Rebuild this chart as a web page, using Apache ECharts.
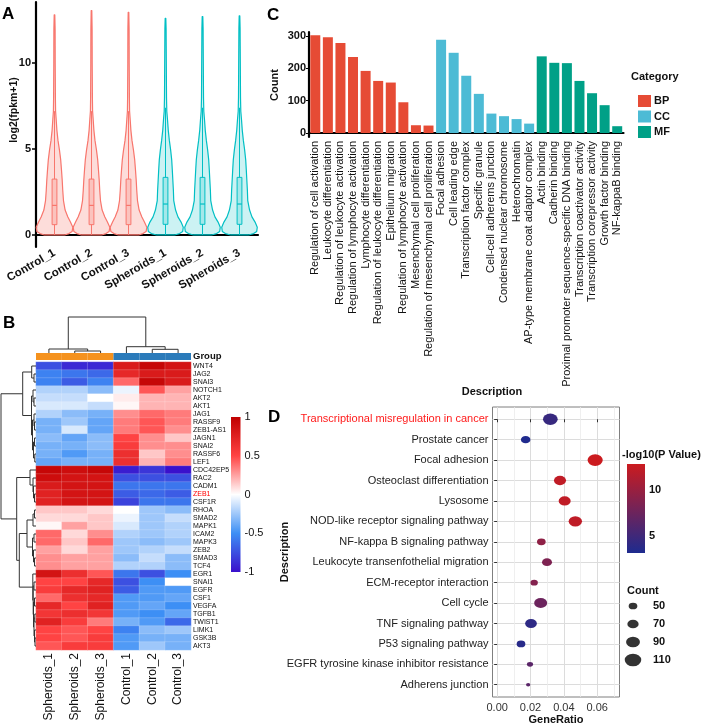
<!DOCTYPE html>
<html><head><meta charset="utf-8">
<script src="https://cdn.jsdelivr.net/npm/echarts@6/dist/echarts.min.js"></script>
<style>html,body{margin:0;padding:0;background:#fff}#c{width:706px;height:726px}</style>
</head><body><div id="c"></div>
<script>
// ================= Panel A : violin =================
const samplesA = ['Control_1','Control_2','Control_3','Spheroids_1','Spheroids_2','Spheroids_3'];
const groupA = ['Control','Control','Control','Spheroids','Spheroids','Spheroids'];
const violinLevels = [0, 0.08, 0.2, 0.45, 0.75, 1.05, 1.45, 2.0, 2.6, 3.2, 3.8, 4.35, 4.95, 5.5, 6.1, 6.7, 7.2, 8, 9, 10, 11, 12];
const densityControl = [0.55, 0.79, 0.96, 1.0, 0.87, 0.73, 0.58, 0.49, 0.45, 0.42, 0.38, 0.34, 0.27, 0.19, 0.13, 0.093, 0.06, 0.049, 0.044, 0.038, 0.036, 0.033];
const densitySpheroids = [0.49, 0.77, 0.94, 0.97, 0.85, 0.68, 0.55, 0.45, 0.43, 0.40, 0.37, 0.34, 0.28, 0.21, 0.15, 0.11, 0.071, 0.055, 0.049, 0.044, 0.038, 0.033];
const violinMax = [12.8, 13.05, 12.95, 12.6, 12.7, 12.75];
const boxQ1 = [0.6, 0.6, 0.6, 0.62, 0.62, 0.62];
const boxMedian = [1.72, 1.72, 1.72, 1.8, 1.8, 1.8];
const boxQ3 = [3.25, 3.25, 3.25, 3.35, 3.35, 3.35];
const whiskerHigh = [7.2, 7.2, 7.2, 7.4, 7.4, 7.4];
const yTicksA = [0, 5, 10];

// ================= Panel C : GO bars =================
const goTerms = ['Regulation of cell activation','Leukocyte differentiation','Regulation of leukocyte activation','Regulation of lymphocyte activation','Lymphocyte differentiation','Regulation of leukocyte differentiation','Epithelium migration','Regulation of lymphocyte activation','Mesenchymal cell proliferation','Regulation of mesenchymal cell proliferation','Focal adhesion','Cell leading edge','Transcription factor complex','Specific granule','Cell-cell adherems junction','Condensed nuclear chromosome','Heterochromatin','AP-type membrane coat adaptor complex','Actin binding','Cadherin binding','Proximal promoter sequence-specific DNA binding','Transcription coactivator activity','Transcription corepressor activity','Growth factor binding','NF-kappaB binding'];
const goCategory = ['BP','BP','BP','BP','BP','BP','BP','BP','BP','BP','CC','CC','CC','CC','CC','CC','CC','CC','MF','MF','MF','MF','MF','MF','MF'];
const goCounts = [302, 296, 278, 235, 192, 161, 156, 95, 24, 23, 288, 248, 177, 121, 60, 52, 43, 29, 237, 217, 216, 161, 123, 86, 21];
const goCategories = ['BP','CC','MF'];
const yTicksC = [0, 100, 200, 300];

// ================= Panel B : heatmap =================
const heatSamples = ['Spheroids_1','Spheroids_2','Spheroids_3','Control_1','Control_2','Control_3'];
const heatGroups = ['Spheroids','Spheroids','Spheroids','Control','Control','Control'];
const genes = ['WNT4','JAG2','SNAI3','NOTCH1','AKT2','AKT1','JAG1','RASSF9','ZEB1-AS1','JAGN1','SNAI2','RASSF6','LEF1','CDC42EP5','RAC2','CADM1','ZEB1','CSF1R','RHOA','SMAD2','MAPK1','ICAM2','MAPK3','ZEB2','SMAD3','TCF4','EGR1','SNAI1','EGFR','CSF1','VEGFA','TGFB1','TWIST1','LIMK1','GSK3B','AKT3'];
const highlightGenes = ['ZEB1'];
const zSpheroids1 = [-0.75,-0.55,-0.55,-0.2,-0.15,-0.1,-0.2,-0.35,-0.35,-0.3,-0.35,-0.35,-0.4, 0.95,0.9,0.8,0.75,0.75, 0.15,0.1,0.02,0.4,0.4,0.25,0.3,0.3, 0.85,0.5,0.55,0.4,0.7,0.6,0.75,0.5,0.5,0.45];
const zSpheroids2 = [-0.9,-0.6,-0.7,-0.2,-0.15,-0.1,-0.3,-0.25,-0.1,-0.4,-0.35,-0.45,-0.35, 0.9,0.85,0.85,0.85,0.85, 0.15,0.1,0.25,0.1,0.15,0.1,0.25,0.25, 0.65,0.5,0.7,0.65,0.5,0.65,0.55,0.45,0.45,0.55];
const zSpheroids3 = [-0.9,-0.65,-0.55,-0.3,0.0,-0.15,-0.35,-0.4,-0.4,-0.3,-0.3,-0.35,-0.35, 0.95,0.85,0.85,0.85,0.85, 0.1,0.15,0.15,0.3,0.4,0.25,0.25,0.25, 0.45,0.7,0.75,0.7,0.75,0.6,0.35,0.5,0.55,0.55];
const zControl1 = [0.8,0.7,0.4,-0.05,0.05,0.02,0.3,0.35,0.35,0.5,0.55,0.65,0.65, -0.95,-0.75,-0.6,-0.7,-0.8, 0.0,-0.05,-0.1,-0.2,-0.25,-0.25,-0.3,-0.2, -0.6,-0.75,-0.7,-0.45,-0.45,-0.45,-0.35,-0.55,-0.45,-0.45];
const zControl2 = [0.95,0.8,0.95,0.45,0.2,0.2,0.4,0.45,0.45,0.3,0.3,0.15,0.2, -0.85,-0.75,-0.6,-0.65,-0.6, -0.25,-0.25,-0.25,-0.25,-0.3,-0.2,-0.15,-0.2, -0.75,-0.5,-0.45,-0.45,-0.4,-0.5,-0.45,-0.3,-0.35,-0.25];
const zControl3 = [0.85,0.8,0.8,0.25,0.2,0.2,0.35,0.35,0.3,0.15,0.3,0.3,0.35, -1.0,-0.75,-0.6,-0.7,-0.6, -0.3,-0.15,-0.2,-0.2,-0.25,-0.15,-0.3,-0.3, -0.5,0.0,-0.45,-0.4,-0.5,-0.4,-0.65,-0.25,-0.35,-0.35];
// dendrograms: leaf = index, node = [height, left, right]
const colTree = [36, [4, 0, [2, 1, 2]], [6.3, 3, [3.7, 4, 5]]];
const rowTree = [35,
  [13.3, [4.3, 0, [2, 1, 2]],
         [4.5, [3, 3, [2, 4, 5]], [3.5, [2, 6, [1.5, 7, 8]], [2.5, [1.5, 9, 10], [1.2, 11, 12]]]]],
  [19.3, [6, 13, [3, 14, [2.5, 15, [1.5, 16, 17]]]],
         [16.7, [9, [3, [1.5, 18, 19], 20], [3.5, [2, 21, 22], [2.5, 23, [1.5, 24, 25]]]],
                [3.2, 26, [2.8, [2, 27, 28], [2.5, [1.5, 29, 30], [2, [1.2, 31, 32], [1.5, 33, [1, 34, 35]]]]]]]]];
const heatTicks = [-1, -0.5, 0, 0.5, 1];

// ================= Panel D : KEGG bubbles =================
const pathways = ['Transcriptional misregulation in cancer','Prostate cancer','Focal adhesion','Osteoclast differentiation','Lysosome','NOD-like receptor signaling pathway','NF-kappa B signaling pathway','Leukocyte transenfothelial migration','ECM-receptor interaction','Cell cycle','TNF signaling pathway','P53 signaling pathway','EGFR tyrosine kinase inhibitor resistance','Adherens junction'];
const highlightPathways = ['Transcriptional misregulation in cancer'];
const geneRatio = [0.0319, 0.0171, 0.0588, 0.0377, 0.0405, 0.0469, 0.0265, 0.0299, 0.0222, 0.0261, 0.0203, 0.0143, 0.0197, 0.0186];
const pathCount = [96, 56, 100, 76, 76, 86, 50, 60, 40, 83, 73, 50, 30, 16];
const negLogP = [4.5, 3.2, 12.9, 12.3, 12.3, 12.2, 9.5, 8.5, 8.8, 7.5, 4.0, 3.6, 6.5, 6.5];
const xTicksD = [0, 0.02, 0.04, 0.06];
const xMinorD = [0.01, 0.03, 0.05, 0.07];
const pTicksD = [5, 10];
const countLegend = [50, 70, 90, 110];

// ================= styles =================
const FONT = 'Liberation Sans, Arial, sans-serif';
const ctrlColor = '#F8766D', sphColor = '#00BFC4';
const goColors = {BP: '#E64B35', CC: '#4DBBD5', MF: '#00A087'};
const heatPalette = ['#3A10CC', '#3D8FF5', '#FFFFFF', '#FF4343', '#C00000'];
const groupColors = {Spheroids: '#F5921E', Control: '#2B7BBA'};
const pPalette = ['#1E2B8F', '#CB1B1F'];
const sizeOf = c => { const h = 6.7 + 0.1 * (c - 50); return [1.3 * h, h]; };

// ---------- helpers ----------
function dendroSegments(tree) {
  const segs = [];
  (function walk(n) {
    if (typeof n === 'number') return {pos: n, h: 0};
    const a = walk(n[1]), b = walk(n[2]);
    segs.push([a.pos, b.pos, a.h, b.h, n[0]]);
    return {pos: (a.pos + b.pos) / 2, h: n[0]};
  })(tree);
  return segs;
}
function gradientBar(colors) {
  return function (params, api) {
    const yAxisMax = api.value(1), yAxisMin = api.value(2);
    const p0 = api.coord([0, yAxisMax]), p1 = api.coord([1, yAxisMin]);
    const stops = colors.map((c, k) => ({offset: 1 - k / (colors.length - 1), color: c}));
    return {type: 'rect', shape: {x: p0[0], y: p0[1], width: p1[0] - p0[0], height: p1[1] - p0[1]},
      style: {fill: new echarts.graphic.LinearGradient(0, 0, 0, 1, stops.reverse())}};
  };
}

const heatCols = [zSpheroids1, zSpheroids2, zSpheroids3, zControl1, zControl2, zControl3];
const heatData = [];
heatCols.forEach((col, c) => col.forEach((v, r) => heatData.push([c, r, v])));

const blackAxis = {lineStyle: {color: '#000', width: 2.2}};
const hid = {show: false};

const option = {
  animation: false,
  textStyle: {fontFamily: FONT},
  grid: [
    {left: 36, top: 2, width: 222, height: 245},          // 0 A
    {left: 309, top: 32, width: 314.5, height: 105},      // 1 C
    {left: 36, top: 315, width: 155, height: 38},         // 2 top dendro
    {left: 36, top: 353, width: 155, height: 7},          // 3 group bar
    {left: 36, top: 362, width: 155, height: 288},        // 4 heatmap
    {left: 0, top: 362, width: 36, height: 288},          // 5 left dendro
    {left: 231, top: 417, width: 9.5, height: 155},       // 6 heat colorbar
    {left: 492.5, top: 407, width: 127, height: 290, show: true, borderColor: '#7F7F7F', borderWidth: 1}, // 7 D
    {left: 627, top: 464, width: 18, height: 89},         // 8 D colorbar
    {left: 624, top: 597, width: 18, height: 72}          // 9 D size legend
  ],
  xAxis: [
    {gridIndex: 0, type: 'category', data: samplesA, axisLine: blackAxis,
      axisTick: {alignWithLabel: true, length: 4, lineStyle: {width: 1.5, color: '#000'}},
      axisLabel: {rotate: 30, fontSize: 11.5, fontWeight: 'bold', color: '#111', margin: 5, interval: 0}},
    {gridIndex: 1, type: 'category', data: goTerms, axisLine: blackAxis,
      axisTick: {alignWithLabel: true, length: 3, lineStyle: {width: 1, color: '#000'}},
      axisLabel: {rotate: 90, fontSize: 11, color: '#111', margin: 4, interval: 0}},
    {gridIndex: 2, type: 'value', min: -0.5, max: 5.5, show: false},
    {gridIndex: 3, type: 'category', data: heatSamples, show: false},
    {gridIndex: 4, type: 'category', data: heatSamples, axisLine: hid, axisTick: hid,
      axisLabel: {rotate: 90, fontSize: 12, color: '#111', margin: 3, interval: 0}},
    {gridIndex: 5, type: 'value', min: 0, max: 36, inverse: true, show: false},
    {gridIndex: 6, type: 'value', min: 0, max: 1, show: false},
    {gridIndex: 7, type: 'value', min: -0.0028, max: 0.0734, axisLine: hid,
      axisTick: {customValues: xTicksD, length: 3, lineStyle: {color: '#333'}},
      axisLabel: {customValues: xTicksD, formatter: v => Number(v).toFixed(2), fontSize: 11, color: '#333', margin: 5},
      splitLine: {show: true, lineStyle: {color: '#DCDCDC', width: 1}}},
    {gridIndex: 7, type: 'value', position: 'top', min: -0.0028, max: 0.0734, axisLine: hid,
      axisTick: {show: false, customValues: xMinorD}, axisLabel: {show: false, customValues: xMinorD},
      splitLine: {show: true, lineStyle: {color: '#EBEBEB', width: 0.8}}},
    {gridIndex: 8, type: 'value', min: 0, max: 1, show: false},
    {gridIndex: 9, type: 'value', min: 0, max: 1, show: false}
  ],
  yAxis: [
    {gridIndex: 0, type: 'value', min: -0.7, max: 13.55, axisLine: Object.assign({show: true}, blackAxis),
      axisTick: {show: true, customValues: yTicksA, length: 4, lineStyle: {width: 1.5, color: '#000'}},
      axisLabel: {customValues: yTicksA, fontSize: 11, fontWeight: 'bold', color: '#111', margin: 5},
      splitLine: hid},
    {gridIndex: 1, type: 'value', min: -12.4, max: 312.3, axisLine: Object.assign({show: true}, blackAxis),
      axisTick: {show: true, customValues: yTicksC, length: 3, lineStyle: {width: 1, color: '#000'}},
      axisLabel: {customValues: yTicksC, fontSize: 11, fontWeight: 'bold', color: '#111', margin: 3},
      splitLine: hid},
    {gridIndex: 2, type: 'value', min: 0, max: 38, show: false},
    {gridIndex: 3, type: 'category', data: ['Group'], position: 'right', axisLine: hid, axisTick: hid,
      axisLabel: {fontSize: 9.5, fontWeight: 'bold', color: '#111', margin: 2}},
    {gridIndex: 4, type: 'category', data: genes, inverse: true, position: 'right', axisLine: hid, axisTick: hid,
      axisLabel: {fontSize: 7, margin: 2, interval: 0,
        color: v => highlightGenes.includes(v) ? '#FF0000' : '#111'}},
    {gridIndex: 5, type: 'value', min: -0.5, max: 35.5, inverse: true, show: false},
    {gridIndex: 6, type: 'value', min: -1, max: 1, position: 'right', axisLine: hid,
      axisTick: {show: false, customValues: heatTicks},
      axisLabel: {customValues: heatTicks, fontSize: 11, color: '#111', margin: 4}, splitLine: hid},
    {gridIndex: 7, type: 'value', min: -0.6, max: 13.6, inverse: true, axisLine: hid,
      axisTick: {show: true, customValues: pathways.map((p, i) => i), length: 3, lineStyle: {color: '#333'}},
      axisLabel: {customValues: pathways.map((p, i) => i), formatter: v => pathways[Number(v)], fontSize: 11, margin: 4,
        color: v => highlightPathways.includes(pathways[Number(v)]) ? '#FF1A1A' : '#222'},
      splitLine: {show: true, lineStyle: {color: '#DCDCDC', width: 1}}},
    {gridIndex: 8, type: 'value', min: 3.1, max: 12.9, position: 'right', axisLine: hid,
      axisTick: {show: true, inside: true, customValues: pTicksD, length: 3, lineStyle: {color: '#fff'}},
      axisLabel: {customValues: pTicksD, fontSize: 11, fontWeight: 'bold', color: '#111', margin: 4}, splitLine: hid},
    {gridIndex: 9, type: 'category', data: countLegend.map(String), inverse: true, position: 'right', axisLine: hid, axisTick: hid,
      axisLabel: {fontSize: 11, fontWeight: 'bold', color: '#111', margin: 11}}
  ],
  visualMap: [
    {show: false, seriesIndex: 6, min: -1, max: 1, dimension: 2, inRange: {color: heatPalette}},
    {show: false, seriesIndex: 9, min: 3.1, max: 12.9, dimension: 2, inRange: {color: pPalette}}
  ],
  legend: {
    data: goCategories, orient: 'vertical', left: 633, top: 90, itemWidth: 13, itemHeight: 12, itemGap: 3.5,
    icon: 'rect', selectedMode: false, textStyle: {fontSize: 11, fontWeight: 'bold', color: '#111', padding: [0, 0, 0, -2]}
  },
  series: [
    { // 0 violins
      type: 'custom', xAxisIndex: 0, yAxisIndex: 0,
      data: samplesA.map((s, i) => [i]),
      renderItem: function (params, api) {
        const i = api.value(0);
        const isCtrl = groupA[i] === 'Control';
        const dens = isCtrl ? densityControl : densitySpheroids;
        const col = isCtrl ? ctrlColor : sphColor;
        const fill = isCtrl ? 'rgba(248,118,109,0.25)' : 'rgba(0,191,196,0.2)';
        const cx = api.coord([i, 0])[0];
        const band = api.size([1, 0])[0];
        const maxHalf = band * 0.495;
        const right = [], left = [];
        violinLevels.forEach((lv, k) => {
          if (lv >= violinMax[i]) return;
          const y = api.coord([i, lv])[1];
          right.push([cx + dens[k] * maxHalf, y]);
          left.push([cx - dens[k] * maxHalf, y]);
        });
        const ty = api.coord([i, violinMax[i]])[1];
        const pts = right.concat([[cx + 0.3, ty], [cx - 0.3, ty]], left.reverse());
        const bw = band * 0.065;
        const yq1 = api.coord([i, boxQ1[i]])[1], yq3 = api.coord([i, boxQ3[i]])[1], ym = api.coord([i, boxMedian[i]])[1];
        const y0 = api.coord([i, 0])[1], yw = api.coord([i, whiskerHigh[i]])[1];
        return {type: 'group', children: [
          {type: 'polygon', shape: {points: pts}, style: {fill: fill, stroke: col, lineWidth: 1.2, lineJoin: 'round'}},
          {type: 'line', shape: {x1: cx, y1: y0, x2: cx, y2: yq1}, style: {stroke: col, lineWidth: 1}},
          {type: 'line', shape: {x1: cx, y1: yq3, x2: cx, y2: yw}, style: {stroke: col, lineWidth: 1}},
          {type: 'rect', shape: {x: cx - bw, y: yq3, width: 2 * bw, height: yq1 - yq3}, style: {fill: fill, stroke: col, lineWidth: 1}},
          {type: 'line', shape: {x1: cx - bw, y1: ym, x2: cx + bw, y2: ym}, style: {stroke: col, lineWidth: 1.2}}
        ]};
      }
    },
    // 1-3 GO bars
    ...goCategories.map(cat => ({
      type: 'bar', name: cat, stack: 'go', xAxisIndex: 1, yAxisIndex: 1, barWidth: 10,
      itemStyle: {color: goColors[cat]},
      data: goCounts.map((v, k) => goCategory[k] === cat ? v : '-')
    })),
    { // 4 top dendrogram
      type: 'custom', xAxisIndex: 2, yAxisIndex: 2, data: dendroSegments(colTree),
      renderItem: (p, api) => ({type: 'polyline', shape: {points: [
        api.coord([api.value(0), api.value(2)]), api.coord([api.value(0), api.value(4)]),
        api.coord([api.value(1), api.value(4)]), api.coord([api.value(1), api.value(3)])]},
        style: {stroke: '#333', lineWidth: 1, fill: null}})
    },
    { // 5 group annotation
      type: 'custom', xAxisIndex: 3, yAxisIndex: 3, data: heatSamples.map((s, i) => [i, 0]),
      renderItem: (p, api) => {
        const i = api.value(0); const c = api.coord([i, 0]); const s = api.size([1, 1]);
        return {type: 'rect', shape: {x: c[0] - s[0] / 2, y: c[1] - s[1] / 2, width: s[0], height: s[1]},
          style: {fill: groupColors[heatGroups[i]]}};
      }
    },
    { // 6 heatmap
      type: 'heatmap', xAxisIndex: 4, yAxisIndex: 4, data: heatData,
      itemStyle: {borderColor: 'rgba(255,255,255,0.35)', borderWidth: 0.5}
    },
    { // 7 left dendrogram
      type: 'custom', xAxisIndex: 5, yAxisIndex: 5, data: dendroSegments(rowTree),
      renderItem: (p, api) => ({type: 'polyline', shape: {points: [
        api.coord([api.value(2), api.value(0)]), api.coord([api.value(4), api.value(0)]),
        api.coord([api.value(4), api.value(1)]), api.coord([api.value(3), api.value(1)])]},
        style: {stroke: '#333', lineWidth: 1, fill: null}})
    },
    { // 8 heat colorbar
      type: 'custom', xAxisIndex: 6, yAxisIndex: 6, data: [[0, 1, -1]], silent: true,
      renderItem: gradientBar(heatPalette)
    },
    { // 9 bubbles
      type: 'scatter', xAxisIndex: 7, yAxisIndex: 7,
      data: pathways.map((p, i) => [geneRatio[i], i, negLogP[i], pathCount[i]]),
      symbolSize: v => sizeOf(v[3]), itemStyle: {opacity: 1}
    },
    { // 10 p colorbar
      type: 'custom', xAxisIndex: 9, yAxisIndex: 8, data: [[0, 12.9, 3.1]], silent: true,
      renderItem: gradientBar(pPalette)
    },
    { // 11 size legend
      type: 'scatter', xAxisIndex: 10, yAxisIndex: 9,
      data: countLegend.map(c => [0.5, String(c), c]),
      symbolSize: v => sizeOf(v[2]), itemStyle: {color: '#000'}
    }
  ],
  graphic: [
    {type: 'text', x: 2, y: 6, style: {text: 'A', font: 'bold 17px ' + FONT, fill: '#000'}},
    {type: 'text', x: 267, y: 7, style: {text: 'C', font: 'bold 17px ' + FONT, fill: '#000'}},
    {type: 'text', x: 3, y: 315, style: {text: 'B', font: 'bold 17px ' + FONT, fill: '#000'}},
    {type: 'text', x: 268, y: 409, style: {text: 'D', font: 'bold 17px ' + FONT, fill: '#000'}},
    {type: 'text', x: 14, y: 110, rotation: Math.PI / 2, style: {text: 'log2(fpkm+1)', font: 'bold 10.5px ' + FONT, fill: '#111', align: 'center', verticalAlign: 'middle'}},
    {type: 'text', x: 275, y: 85, rotation: Math.PI / 2, style: {text: 'Count', font: 'bold 11px ' + FONT, fill: '#111', align: 'center', verticalAlign: 'middle'}},
    {type: 'text', x: 631, y: 77, style: {text: 'Category', font: 'bold 11px ' + FONT, fill: '#111', align: 'left', verticalAlign: 'middle'}},
    {type: 'text', x: 492, y: 392, style: {text: 'Description', font: 'bold 11px ' + FONT, fill: '#111', align: 'center', verticalAlign: 'middle'}},
    {type: 'text', x: 285, y: 552, rotation: Math.PI / 2, style: {text: 'Description', font: 'bold 11px ' + FONT, fill: '#111', align: 'center', verticalAlign: 'middle'}},
    {type: 'text', x: 556, y: 720, style: {text: 'GeneRatio', font: 'bold 11px ' + FONT, fill: '#111', align: 'center', verticalAlign: 'middle'}},
    {type: 'text', x: 622, y: 455, style: {text: '-log10(P Value)', font: 'bold 11px ' + FONT, fill: '#111', align: 'left', verticalAlign: 'middle'}},
    {type: 'text', x: 627, y: 591, style: {text: 'Count', font: 'bold 11px ' + FONT, fill: '#111', align: 'left', verticalAlign: 'middle'}}
  ]
};
const chart = echarts.init(document.getElementById('c'), null, {renderer: 'canvas'});
chart.setOption(option);
</script></body></html>
